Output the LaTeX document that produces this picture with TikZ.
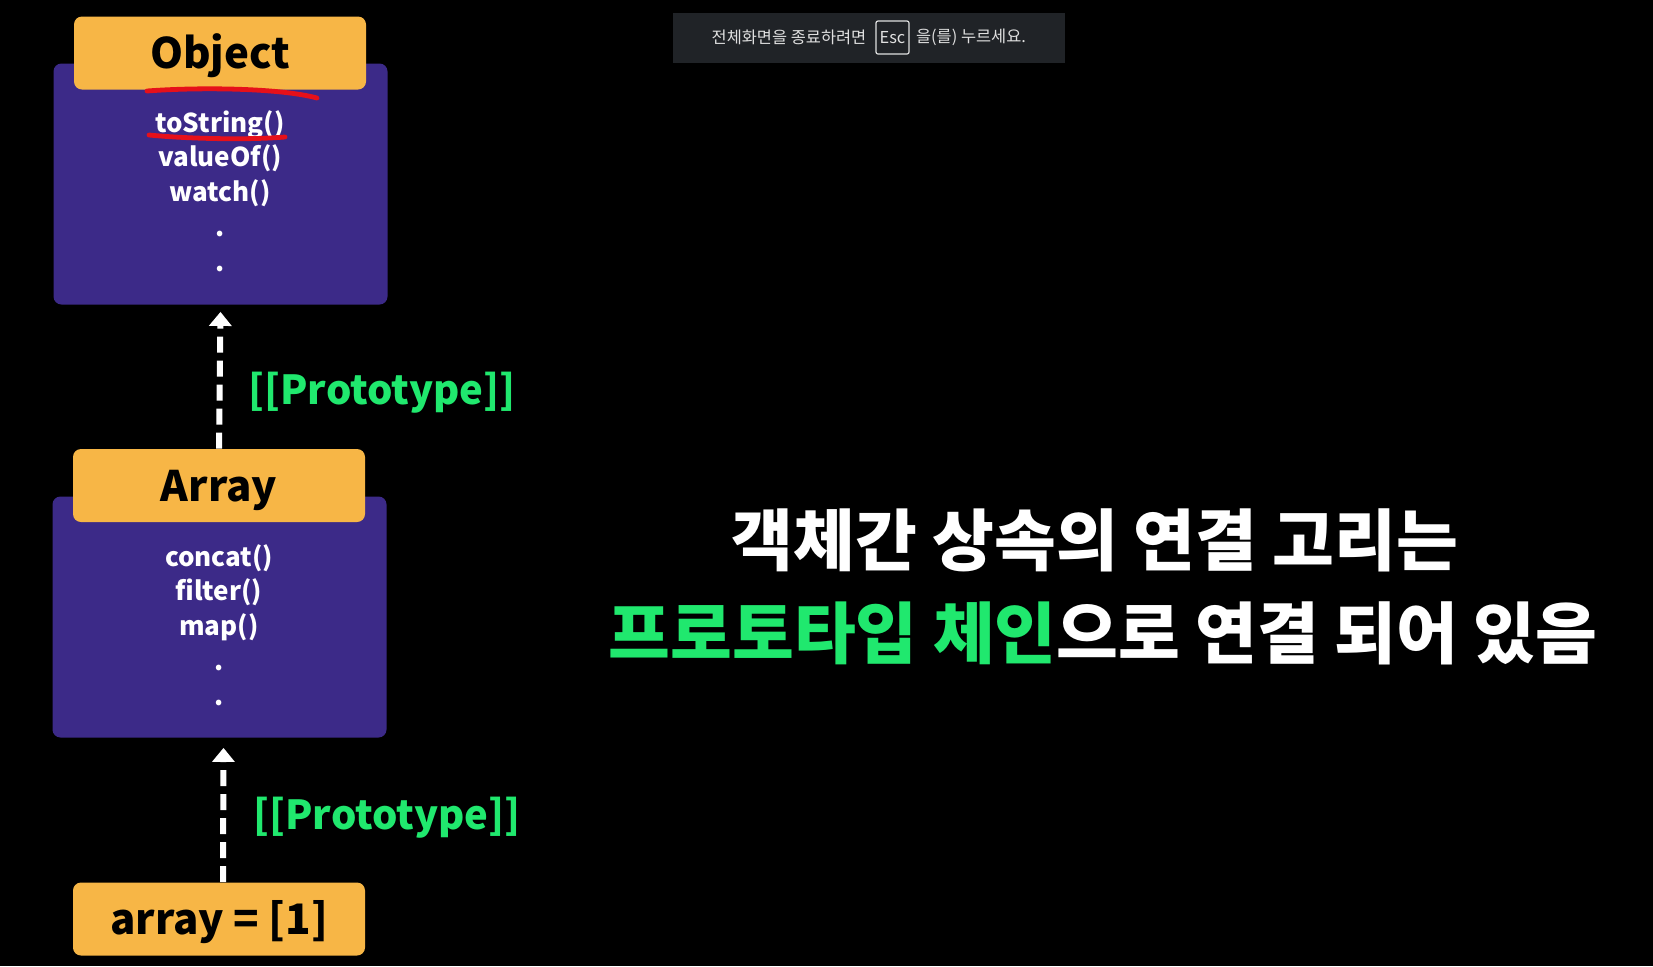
\documentclass[tikz,border=0pt]{standalone}
\usepackage{fontspec}
\setmainfont{Noto Sans CJK KR}
\usepackage{tikz}
\usetikzlibrary{arrows.meta,positioning}
\definecolor{headorange}{RGB}{247,182,70}
\definecolor{bodypurple}{RGB}{60,42,136}
\definecolor{protogreen}{RGB}{32,232,110}
\definecolor{bargray}{RGB}{32,35,39}
\definecolor{markred}{RGB}{230,16,26}

\begin{document}
\begin{tikzpicture}[
    x=0.5pt, y=-0.5pt,
    every node/.style={inner sep=0pt, text=white},
    head/.style={fill=headorange, rounded corners=4pt, minimum width=146pt, minimum height=36.5pt, text=black, text height=17.5pt, text depth=1.7pt, font=\bfseries\fontsize{21pt}{25pt}\selectfont},
    body/.style={fill=bodypurple, rounded corners=4pt, minimum width=167pt, minimum height=120.5pt},
    methods/.style={align=center, font=\bfseries\fontsize{13pt}{17.4pt}\selectfont},
    proto/.style={text=protogreen, font=\bfseries\fontsize{20pt}{24pt}\selectfont},
    title/.style={font=\bfseries\fontsize{33.6pt}{38pt}\selectfont},
    bar/.style={font=\fontsize{8.2pt}{10pt}\selectfont, text=white!88!black},
    arr/.style={-{Triangle[width=11pt,length=7pt]}, white, line width=3pt, dash pattern=on 8pt off 4pt},
    redmark/.style={markred, line width=2.4pt, line cap=round}
]
    \fill[black] (0,0) rectangle (1653,966);
    \useasboundingbox (0,0) rectangle (1653,966);

    \node[body] (objbody) at (220.5,184) {};
    \node[head] (objhead) at (220,53) {Object};
    \node[methods] (objmeth) at (220,191) {toString()\\valueOf()\\watch()\\.\\.};

    \node[body] (arrbody) at (219.5,617) {};
    \node[head] (arrhead) at (219,485.5) {Array};
    \node[methods] (arrmeth) at (219,625) {concat()\\filter()\\map()\\.\\.};

    \node[head] (inst) at (219,919) {array = [1]};

    \draw[arr] (arrhead.north) -- ([yshift=-3.5pt]objbody.south);
    \draw[arr] ([xshift=2pt]inst.north) -- ([xshift=2pt,yshift=-5pt]arrbody.south);

    \node[proto] (proto1) at (382,393) {[[Prototype]]};
    \node[proto] (proto2) at (387,818) {[[Prototype]]};

    \draw[redmark] (147,91) .. controls (200,87) and (280,88) .. (317,98);
    \draw[redmark] (149,135) .. controls (190,139) and (250,140) .. (285,137);

    \node[title] (title1) at (1095,540) {객체간 상속의 연결 고리는};
    \node[title] (title2) at (1103,633) {{\color{protogreen}프로토타입 체인}으로 연결 되어 있음};

    \fill[bargray] (673,13) rectangle (1065,63);
    \node[bar] (msg1) at (789,37) {전체화면을 종료하려면};
    \node[bar, draw=white!88!black, line width=0.6pt, rounded corners=1pt, minimum width=16.5pt, minimum height=16.5pt] (esc) at (892.5,37.5) {Esc};
    \node[bar] (msg2) at (971,37) {을(를) 누르세요.};
\end{tikzpicture}
\end{document}
